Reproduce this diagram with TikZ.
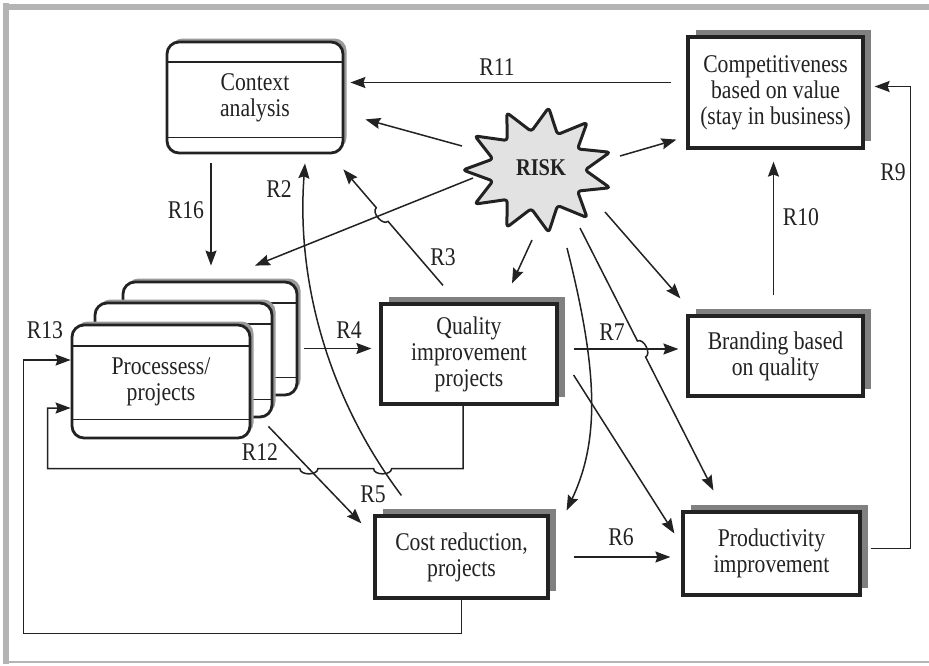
\documentclass[tikz,border=0pt]{standalone}
\usepackage{fontspec}
\setmainfont{Liberation Serif}[FakeStretch=0.85]
\usetikzlibrary{arrows.meta,calc,shadows,intersections}
\definecolor{ink}{HTML}{222222}
\definecolor{shade}{HTML}{808080}
\definecolor{rshade}{HTML}{9A9A9A}
\definecolor{framegray}{HTML}{B4B4B4}
\definecolor{starfill}{HTML}{E2E2E2}

% small bump where one connector jumps over another
% #1 name, #2 crossing point, #3 start side, #4 end side
\newcommand{\hopat}[4]{%
  \coordinate (#1a) at ($(#2)!9pt!(#3)$);
  \coordinate (#1b) at ($(#2)!9pt!(#4)$);
  \coordinate (#1c) at ($(#1a)!7pt!90:(#2)$);
  \coordinate (#1d) at ($(#1b)!7pt!-90:(#2)$);}

\begin{document}
\begin{tikzpicture}[x=1pt,y=-1pt,
  font=\fontsize{25.5}{26}\selectfont,
  every node/.style={text=ink},
  sqbox/.style={draw=ink, line width=3.2pt, fill=white, align=center, inner sep=0pt,
     drop shadow={shadow xshift=8pt, shadow yshift=7pt, fill=shade, opacity=1}},
  rbox/.style={draw=ink, line width=2.8pt, fill=white, rounded corners=12pt, inner sep=0pt, align=center,
     drop shadow={shadow xshift=3.5pt, shadow yshift=3.5pt, fill=rshade, opacity=1}},
  band/.style={draw=ink, line width=1.8pt},
  conn/.style={draw=ink, line width=1.5pt},
  arr/.style={conn, -{Stealth[length=15pt,width=11pt,inset=2pt]}},
  lbl/.style={inner sep=0pt}
]
\fill[white] (0,0) rectangle (929,665);
\useasboundingbox (0,0) rectangle (929,665);

% page frame
\fill[framegray] (3,3) rectangle (9,664);
\fill[framegray] (3,4) rectangle (929,10);
\fill[framegray] (3,660.5) rectangle (929,663);

% boxes
\node[rbox, minimum width=176pt, minimum height=111pt] (ctx) at (255,97.5) {Context\\analysis};
\draw[band] ($(ctx.north west)+(0,21)$) -- ($(ctx.north east)+(0,21)$);
\draw[band] ($(ctx.south west)+(0,-17)$) -- ($(ctx.south east)+(0,-17)$);

\node[sqbox, minimum width=175pt, minimum height=111pt] (comp) at (775.5,92.5)
  {Competitiveness\\based on value\\(stay in business)};

\node[rbox, minimum width=174pt, minimum height=113pt] (proc3) at (210,338.5) {};
\draw[band] ($(proc3.north west)+(0,22)$) -- ($(proc3.north east)+(0,22)$);
\draw[band] ($(proc3.south west)+(0,-19)$) -- ($(proc3.south east)+(0,-19)$);
\node[rbox, minimum width=177pt, minimum height=114pt] (proc2) at (183.5,360) {};
\draw[band] ($(proc2.north west)+(0,22)$) -- ($(proc2.north east)+(0,22)$);
\draw[band] ($(proc2.south west)+(0,-19)$) -- ($(proc2.south east)+(0,-19)$);
\node[rbox, minimum width=178pt, minimum height=113pt] (proc1) at (161,381.5) {Processess/\\projects};
\draw[band] ($(proc1.north west)+(0,22)$) -- ($(proc1.north east)+(0,22)$);
\draw[band] ($(proc1.south west)+(0,-20)$) -- ($(proc1.south east)+(0,-20)$);

\node[sqbox, minimum width=176pt, minimum height=100pt] (qual) at (469,354)
  {Quality\\improvement\\projects};
\node[sqbox, minimum width=175pt, minimum height=80pt] (brand) at (775.5,356)
  {Branding based\\on quality};
\node[sqbox, minimum width=173pt, minimum height=82pt] (cost) at (461.5,557)
  {Cost reduction,\\projects};
\node[sqbox, minimum width=177pt, minimum height=83pt] (prod) at (771.5,553.5)
  {Productivity\\improvement};

% risk burst
\draw[draw=ink, line width=3pt, fill=starfill, line join=round, rounded corners=3pt]
  ({538-75},170)
  \foreach \i in {0,...,9} {
    -- ({538+47*cos(180+(\i+0.5)*32.727)},{170+39*sin(180+(\i+0.5)*32.727)})
    -- ({538+75*cos(180+(\i+1)*32.727)},{170+63*sin(180+(\i+1)*32.727)})
  }
  -- ({538+47*cos(180+10.5*32.727)},{170+39*sin(180+10.5*32.727)}) -- cycle;
\node[font=\fontsize{24}{25}\selectfont\bfseries, inner sep=0pt] (risk) at (541,168) {RISK};

% connectors from the risk burst
\draw[arr] ($(risk)+(-79,-22)$) -- ($(ctx.south east)+(21,-35)$);
\draw[arr] ($(risk)+(79,-12)$) -- ($(comp.south west)+(-10,-10)$);
\coordinate (rps) at ($(risk)+(-68,10)$);
\coordinate (rpe) at ($(proc3.north)+(45,-15)$);
\draw[arr] (rps) -- (rpe);
\draw[arr] ($(risk)+(-9,72)$) -- ($(qual.north)+(43,-19)$);
\draw[arr] ($(risk)+(64,44)$) -- ($(brand.north west)+(-6,-16)$);
\draw[arr] ($(risk)+(26,80)$) .. controls ($(risk)+(57,202)$) and ($(risk)+(59,272)$)
  .. ($(cost.north east)+(17,-4)$);

% R7 and the risk-to-productivity line jumping over it
\coordinate (r7s) at ($(qual.east)+(15,-5)$);
\coordinate (r7e) at ($(brand.west |- r7s)+(-8,0)$);
\draw[arr] (r7s) -- (r7e);
\coordinate (rqs) at ($(risk)+(39,60)$);
\coordinate (rqe) at ($(prod.north west)+(32,-20)$);
\coordinate (x7) at (intersection of rqs--rqe and r7s--r7e);
\hopat{hq}{x7}{rqs}{rqe}
\draw[arr] (rqs) -- (hqa) .. controls (hqc) and (hqd) .. (hqb) -- (rqe);

% R11, R10, R9, R6
\coordinate (r11s) at ($(comp.west)+(-15,-10)$);
\draw[arr, shorten >=6pt] (r11s) -- (ctx.east |- r11s);
\draw[arr] ($(brand.north)+(-2,-19)$) -- ($(comp.south)+(-2,12)$);
\draw[arr] ($(prod.east)+(9,-5)$) -- ++(40,0) |- ($(comp.east)+(10,-6)$);
\draw[arr] ($(cost.east)+(24,0)$) -- ($(prod.west)+(-11,3.5)$);

% R16, R4, R3
\draw[arr] ($(ctx.south)+(-44,9)$) -- ($(proc3.north)+(1,-15)$);
\coordinate (r4s) at ($(proc3.east)+(6,10)$);
\draw[arr, shorten >=8pt] (r4s) -- (qual.west |- r4s);
\coordinate (r3s) at ($(qual.north)+(-26,-17)$);
\coordinate (r3e) at ($(ctx.south east)+(-1,15)$);
\coordinate (x3) at (intersection of r3s--r3e and rps--rpe);
\hopat{hc}{x3}{r3s}{r3e}
\draw[arr] (r3s) -- (hca) .. controls (hcc) and (hcd) .. (hcb) -- (r3e);

% R2 (curved), R12, quality to productivity
\draw[arr, name path=r2] ($(cost.north west)+(28,-19)$)
  .. controls ($(cost.north west)+(-45,-116)$) and ($(ctx.south)+(41,127)$) .. ($(ctx.south)+(50,9)$);
\draw[arr, name path=r12] ($(proc1.south east)+(17,-13)$) -- ($(cost.north west)+(-12,9)$);
\draw[arr] ($(qual.east)+(15,21)$) -- ($(prod.west)+(-7,-20)$);

% feedback loops into the processes (R13)
\coordinate (fb0) at ($(qual.south)+(-6,0)$);
\coordinate (fb1) at ($(fb0)+(0,63)$);
\coordinate (fb3) at ($(proc1.west)+(-23,26.5)$);
\coordinate (fb2) at (fb3 |- fb1);
\path[name path=fbline] (fb1) -- (fb2);
\path[name intersections={of=fbline and r2, by=xa}];
\path[name intersections={of=fbline and r12, by=xb}];
\hopat{ha}{xa}{fb1}{fb2}
\hopat{hb}{xb}{fb1}{fb2}
\draw[arr] (fb0) -- (fb1) -- (haa) .. controls (hac) and (had) .. (hab)
  -- (hba) .. controls (hbc) and (hbd) .. (hbb) -- (fb2) -- (fb3) -- (proc1.west |- fb3);
\draw[arr] (cost.south) -- ++(0,34) -| ($(proc1.west)+(-47,-21.5)$) -- ($(proc1.west)+(0,-21.5)$);

% relation labels
\node[lbl] (l11) at (497,67) {R11};
\node[lbl] (l16) at (186,210) {R16};
\node[lbl] (l2) at (279,189) {R2};
\node[lbl] (l3) at (443,257) {R3};
\node[lbl] (l4) at (349,330) {R4};
\node[lbl] (l7) at (612,332) {R7};
\node[lbl] (l10) at (801,217) {R10};
\node[lbl] (l9) at (893,172) {R9};
\node[lbl] (l13) at (45,330) {R13};
\node[lbl] (l12) at (260,452) {R12};
\node[lbl] (l5) at (373,494) {R5};
\node[lbl] (l6) at (621,537) {R6};
\end{tikzpicture}
\end{document}
